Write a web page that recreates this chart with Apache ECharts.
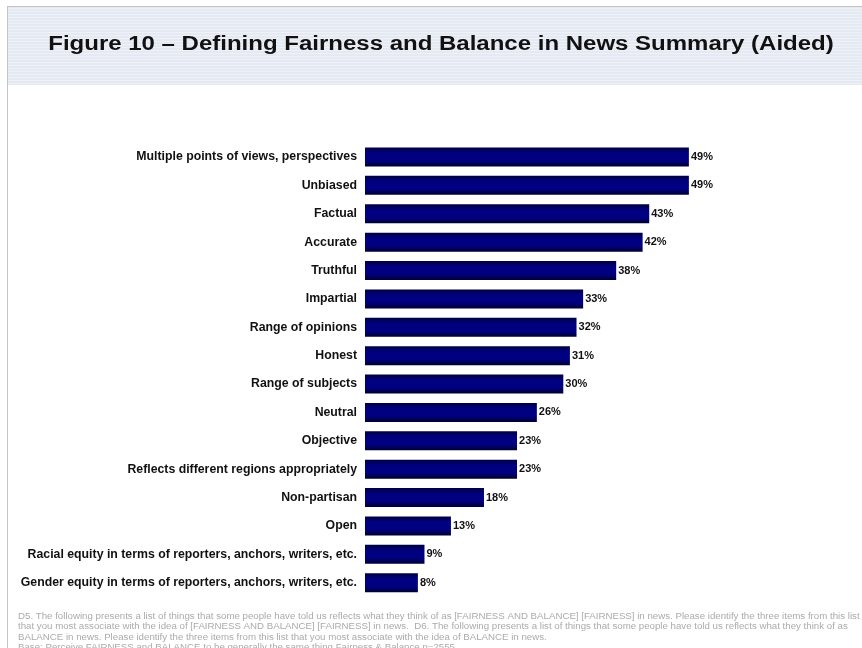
<!DOCTYPE html>
<html>
<head>
<meta charset="utf-8">
<script src="https://cdn.jsdelivr.net/npm/echarts@6/dist/echarts.min.js"></script>
<style>
  html, body { margin: 0; padding: 0; background: #ffffff; }
  #chart { width: 862px; height: 648px; }
</style>
</head>
<body>
<div id="chart"></div>
<script>
// Survey items, top to bottom, and the share of respondents choosing each (%)
const categories = [
  'Multiple points of views, perspectives',
  'Unbiased',
  'Factual',
  'Accurate',
  'Truthful',
  'Impartial',
  'Range of opinions',
  'Honest',
  'Range of subjects',
  'Neutral',
  'Objective',
  'Reflects different regions appropriately',
  'Non-partisan',
  'Open',
  'Racial equity in terms of reporters, anchors, writers, etc.',
  'Gender equity in terms of reporters, anchors, writers, etc.'
];
const shares = [49, 49, 43, 42, 38, 33, 32, 31, 30, 26, 23, 23, 18, 13, 9, 8];

const titleText = 'Figure 10 \u2013 Defining Fairness and Balance in News Summary (Aided)';
const footnoteLines = [
  'D5. The following presents a list of things that some people have told us reflects what they think of as [FAIRNESS AND BALANCE] [FAIRNESS] in news. Please identify the three items from this list',
  'that you most associate with the idea of [FAIRNESS AND BALANCE] [FAIRNESS] in news.  D6. The following presents a list of things that some people have told us reflects what they think of as',
  'BALANCE in news. Please identify the three items from this list that you most associate with the idea of BALANCE in news.',
  'Base: Perceive FAIRNESS and BALANCE to be generally the same thing Fairness & Balance n=2555'
];

const chart = echarts.init(document.getElementById('chart'), null, { renderer: 'canvas' });

// Header band with fine horizontal stripes
const headerGraphics = [
  { type: 'rect', shape: { x: 8, y: 7, width: 854, height: 78 }, style: { fill: '#e5e9f2' }, silent: true }
];
for (let y = 8; y < 85; y += 3) {
  headerGraphics.push({
    type: 'rect', shape: { x: 8, y: y, width: 854, height: 1 },
    style: { fill: '#eef1f7' }, silent: true
  });
}

// Footnote, one text element per printed line
const footGraphics = footnoteLines.map((t, i) => ({
  type: 'text', x: 18, y: 616 + i * 10.6, silent: true,
  style: {
    text: t, fill: '#ababab', textVerticalAlign: 'middle',
    font: '9.7px "Liberation Sans", Arial, sans-serif'
  }
}));

chart.setOption({
  animation: false,
  backgroundColor: '#ffffff',
  graphic: [
    ...headerGraphics,
    { type: 'rect', shape: { x: 7, y: 6, width: 855, height: 1 }, style: { fill: '#c4c4c4' }, silent: true },
    { type: 'rect', shape: { x: 7, y: 6, width: 1, height: 642 }, style: { fill: '#c4c4c4' }, silent: true },
    {
      // title, widened around its own centre
      type: 'text', x: 441, y: 44.5, originX: 0, originY: 0, scaleX: 1.2, silent: true,
      style: {
        text: titleText, fill: '#111111', textAlign: 'center', textVerticalAlign: 'middle',
        font: 'bold 20px "Liberation Sans", Arial, sans-serif'
      }
    },
    ...footGraphics
  ],
  grid: { left: 365, right: 166.5, top: 142.8, bottom: 51.1, containLabel: false },
  xAxis: {
    type: 'value', min: 0, max: 50,
    show: false
  },
  yAxis: {
    type: 'category',
    data: categories,
    inverse: true,
    axisLine: { show: false },
    axisTick: { show: false },
    axisLabel: {
      margin: 8,
      color: '#111111',
      fontFamily: '"Liberation Sans", Arial, sans-serif',
      fontWeight: 'bold',
      fontSize: 12.3
    }
  },
  series: [{
    type: 'bar',
    data: shares,
    barWidth: 19,
    itemStyle: {
      color: new echarts.graphic.LinearGradient(0, 0, 0, 1, [
        { offset: 0, color: '#000040' },
        { offset: 0.3, color: '#000080' },
        { offset: 0.7, color: '#000080' },
        { offset: 1, color: '#000030' }
      ])
    },
    label: {
      show: true,
      position: 'right',
      distance: 2,
      formatter: '{c}%',
      color: '#111111',
      fontFamily: '"Liberation Sans", Arial, sans-serif',
      fontWeight: 'bold',
      fontSize: 11
    }
  }]
});
</script>
</body>
</html>
